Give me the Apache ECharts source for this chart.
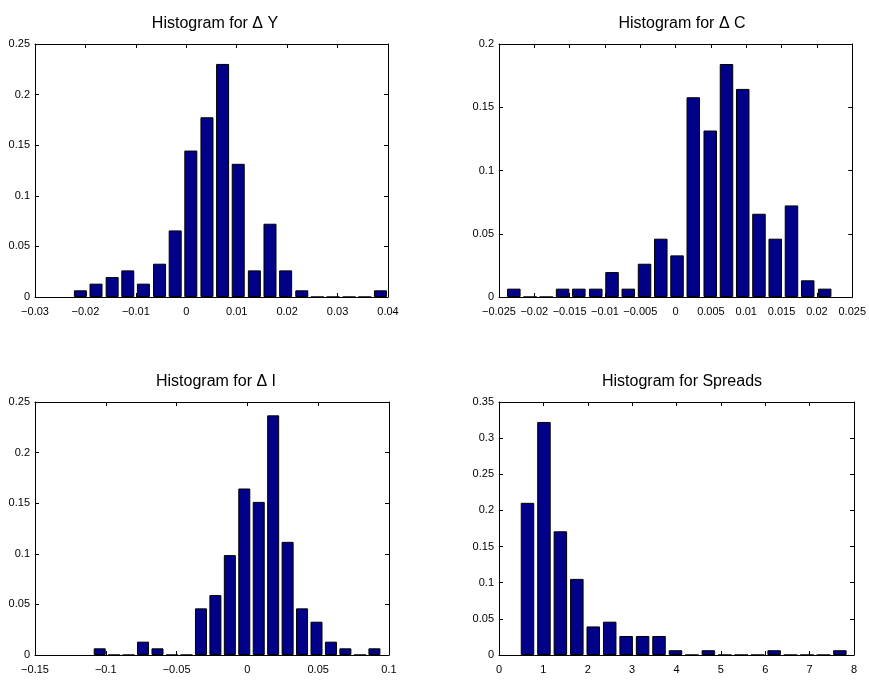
<!DOCTYPE html>
<html>
<head>
<meta charset="utf-8">
<script src="https://cdn.jsdelivr.net/npm/echarts@6/dist/echarts.min.js"></script>
<style>
html,body{margin:0;padding:0;background:#fff;}
#chart{width:869px;height:681px;}
</style>
</head>
<body>
<div id="chart"></div>
<script>
// ---- Data (bin centers and relative frequencies) ----
const titles = ['Histogram for \u0394 Y', 'Histogram for \u0394 C', 'Histogram for \u0394 I', 'Histogram for Spreads'];

const dyCenters = [-0.0210, -0.0179, -0.0147, -0.0116, -0.0085, -0.0053, -0.0022, 0.0009, 0.0041, 0.0072,
                   0.0103, 0.0135, 0.0166, 0.0197, 0.0229, 0.0260, 0.0291, 0.0323, 0.0354, 0.0385];
const dyFreq = [0.0066, 0.0132, 0.0197, 0.0263, 0.0132, 0.0329, 0.0658, 0.1447, 0.1776, 0.2303,
                0.1316, 0.0263, 0.0724, 0.0263, 0.0066, 0, 0, 0, 0, 0.0066];

const dcCenters = [-0.0229, -0.0206, -0.0183, -0.0160, -0.0137, -0.0113, -0.0090, -0.0067, -0.0044, -0.0021,
                   0.0002, 0.0025, 0.0049, 0.0072, 0.0095, 0.0118, 0.0141, 0.0164, 0.0187, 0.0211];
const dcFreq = [0.0066, 0, 0, 0.0066, 0.0066, 0.0066, 0.0197, 0.0066, 0.0263, 0.0461,
                0.0329, 0.1579, 0.1316, 0.1842, 0.1645, 0.0658, 0.0461, 0.0724, 0.0132, 0.0066];

const diCenters = [-0.1043, -0.0941, -0.0839, -0.0737, -0.0635, -0.0532, -0.0430, -0.0328, -0.0226, -0.0124,
                   -0.0022, 0.0080, 0.0182, 0.0284, 0.0386, 0.0488, 0.0590, 0.0692, 0.0795, 0.0897];
const diFreq = [0.0066, 0, 0, 0.0132, 0.0066, 0, 0, 0.0461, 0.0592, 0.0987,
                0.1645, 0.1513, 0.2368, 0.1118, 0.0461, 0.0329, 0.0132, 0.0066, 0, 0.0066];

const spCenters = [0.642, 1.013, 1.383, 1.754, 2.124, 2.495, 2.865, 3.236, 3.606, 3.977,
                   4.347, 4.718, 5.088, 5.459, 5.829, 6.200, 6.570, 6.941, 7.311, 7.682];
const spFreq = [0.2105, 0.3224, 0.1711, 0.1053, 0.0395, 0.0461, 0.0263, 0.0263, 0.0263, 0.0066,
                0, 0.0066, 0, 0, 0, 0.0066, 0, 0, 0, 0.0066];

// axis ranges and tick spacing
const xRanges = [[-0.03, 0.04, 0.01], [-0.025, 0.025, 0.005], [-0.15, 0.1, 0.05], [0, 8, 1]];
const yRanges = [[0, 0.25, 0.05], [0, 0.2, 0.05], [0, 0.25, 0.05], [0, 0.35, 0.05]];

// ---- Layout ----
const grids = [
  {left: 35, top: 44, width: 353, height: 253},
  {left: 499, top: 44, width: 355, height: 253},
  {left: 35, top: 402, width: 354, height: 253},
  {left: 499, top: 402, width: 355, height: 253}
];
const barWidths = [13, 13.5, 12, 13.5];
const titlePos = [{x: 210, y: 11}, {x: 677, y: 11}, {x: 211, y: 369}, {x: 677, y: 369}];

const font = '"Liberation Sans", Arial, sans-serif';
const fmt = v => {
  const s = String(+v.toFixed(6));
  return s.replace('-', '\u2212');
};

const datasets = [[dyCenters, dyFreq], [dcCenters, dcFreq], [diCenters, diFreq], [spCenters, spFreq]];

const option = {
  animation: false,
  backgroundColor: '#fff',
  title: titles.map((t, i) => ({
    text: t, left: titlePos[i].x, top: titlePos[i].y, textAlign: 'center',
    textStyle: {fontFamily: font, fontSize: 16, fontWeight: 'normal', color: '#000'}
  })),
  grid: grids.map(g => Object.assign({containLabel: false}, g)),
  xAxis: [],
  yAxis: [],
  series: []
};

for (let i = 0; i < 4; i++) {
  const [xmin, xmax, xint] = xRanges[i];
  const [ymin, ymax, yint] = yRanges[i];
  const common = {
    gridIndex: i,
    type: 'value',
    axisLine: {show: true, onZero: false, lineStyle: {color: '#000', width: 1}},
    axisTick: {show: true, inside: true, length: 4, lineStyle: {color: '#000'}},
    splitLine: {show: false}
  };
  option.xAxis.push(Object.assign({}, common, {
    position: 'bottom', min: xmin, max: xmax, interval: xint,
    axisLabel: {show: true, formatter: fmt, fontFamily: font, fontSize: 11, color: '#000', margin: 9, hideOverlap: false}
  }));
  option.xAxis.push(Object.assign({}, common, {
    position: 'top', min: xmin, max: xmax, interval: xint,
    axisLabel: {show: false}
  }));
  option.yAxis.push(Object.assign({}, common, {
    position: 'left', min: ymin, max: ymax, interval: yint,
    axisLabel: {show: true, formatter: fmt, fontFamily: font, fontSize: 11, color: '#000', margin: 5}
  }));
  option.yAxis.push(Object.assign({}, common, {
    position: 'right', min: ymin, max: ymax, interval: yint,
    axisLabel: {show: false}
  }));
  const [cs, fs] = datasets[i];
  option.series.push({
    type: 'bar',
    xAxisIndex: 2 * i,
    yAxisIndex: 2 * i,
    barWidth: barWidths[i],
    data: cs.map((c, k) => [c, fs[k]]),
    itemStyle: {color: '#000088', borderColor: '#000', borderWidth: 1},
    silent: true
  });
}

const chart = echarts.init(document.getElementById('chart'), null, {renderer: 'canvas'});
chart.setOption(option);
</script>
</body>
</html>
